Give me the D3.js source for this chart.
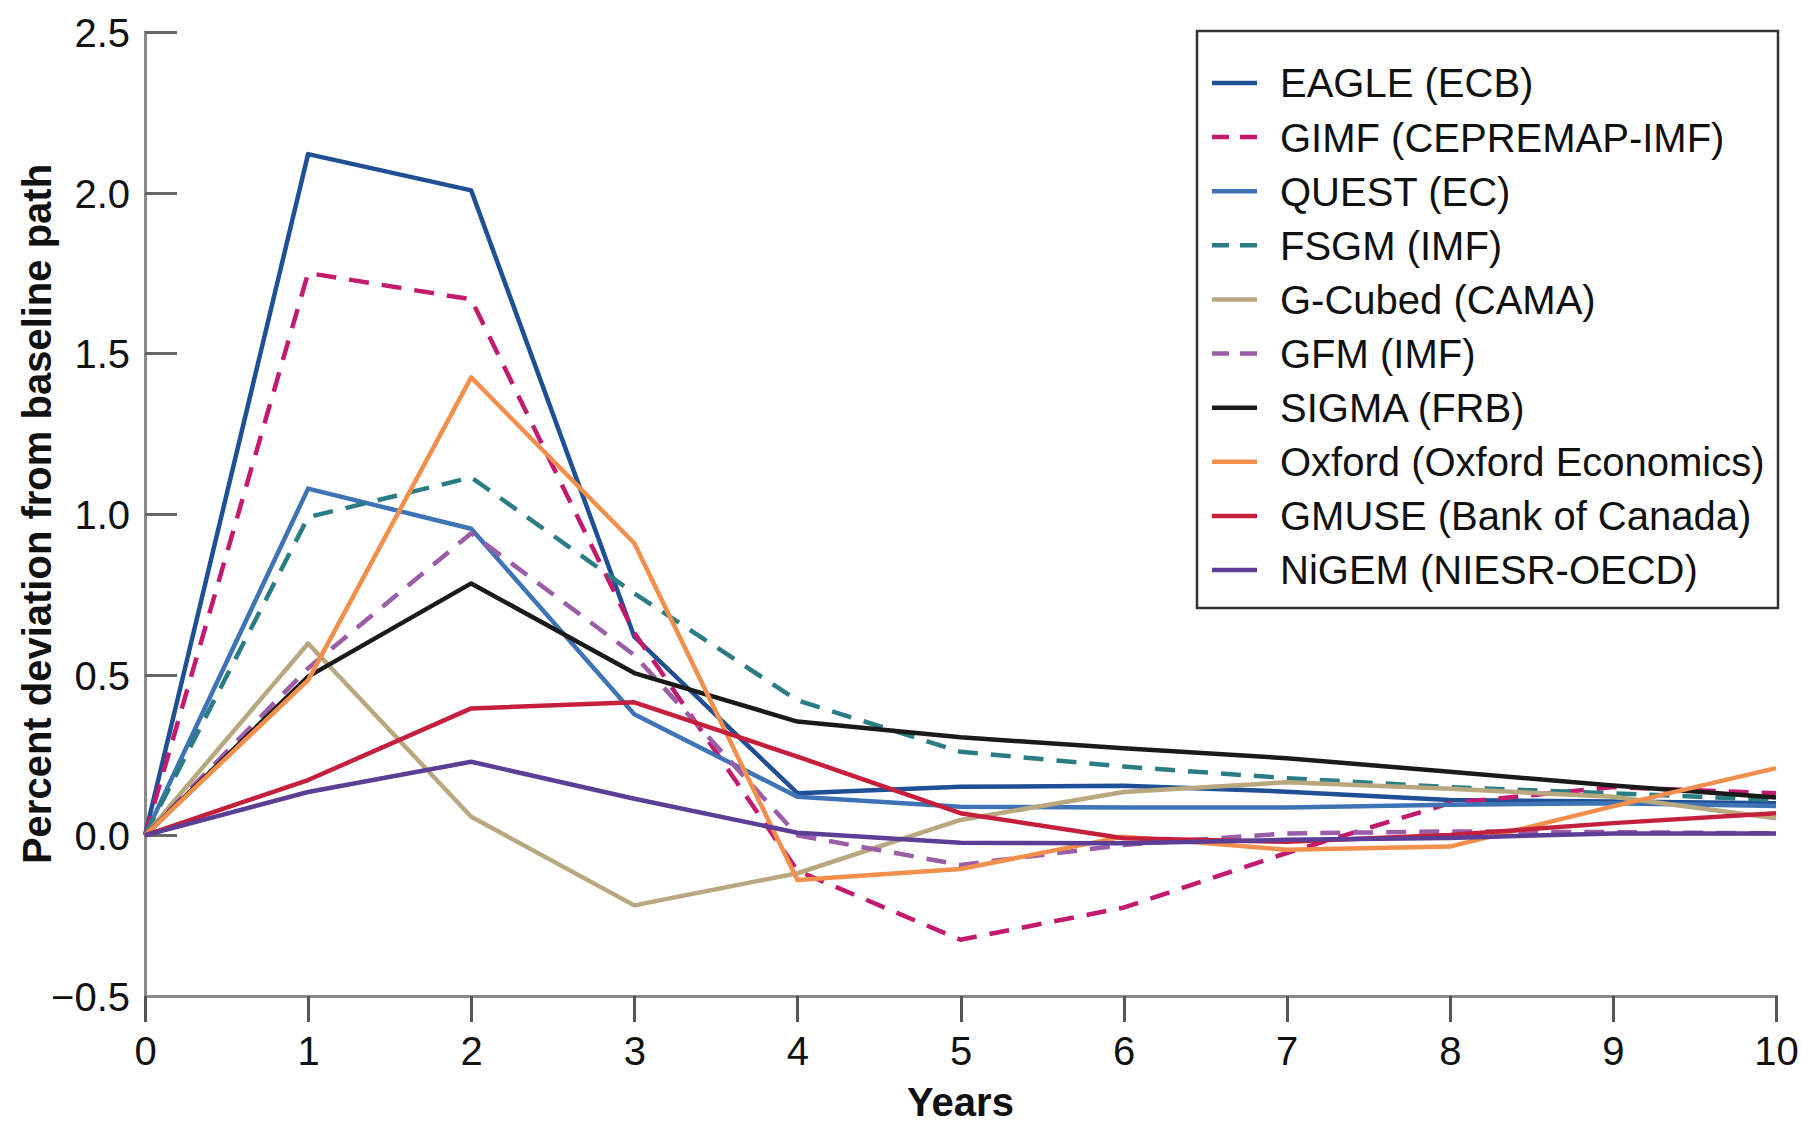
<!DOCTYPE html>
<html lang="en">
<head>
<meta charset="UTF-8">
<title>Percent deviation from baseline path</title>
<style>
  body {
    margin: 0;
    background: #fff;
  }
  svg text {
    font-family: "Liberation Sans", Arial, Helvetica, sans-serif;
    fill: #111;
  }
  .axis path, .axis line {
    fill: none;
    shape-rendering: crispEdges;
  }
</style>
</head>
<body>
<svg id="chart"></svg>

<script src="https://d3js.org/d3.v7.min.js"></script>
<script>
// years after the shock
const years = [0, 1, 2, 3, 4, 5, 6, 7, 8, 9, 10];

// one array per model (percent deviation from baseline path)
const eagle  = [0, 2.12, 2.007, 0.618, 0.131, 0.151, 0.154, 0.136, 0.11, 0.105, 0.1];
const gimf   = [0, 1.75, 1.668, 0.63, -0.11, -0.325, -0.225, -0.055, 0.1, 0.15, 0.131];
const quest  = [0, 1.079, 0.954, 0.377, 0.12, 0.089, 0.087, 0.087, 0.095, 0.1, 0.091];
const fsgm   = [0, 0.99, 1.114, 0.753, 0.42, 0.26, 0.214, 0.178, 0.15, 0.131, 0.11];
const gcubed = [0, 0.597, 0.058, -0.218, -0.118, 0.048, 0.135, 0.165, 0.145, 0.12, 0.053];
const gfm    = [0, 0.52, 0.94, 0.561, 0.0, -0.092, -0.03, 0.006, 0.012, 0.01, 0.006];
const sigma  = [0, 0.494, 0.784, 0.505, 0.354, 0.305, 0.271, 0.24, 0.198, 0.155, 0.118];
const oxford = [0, 0.483, 1.425, 0.909, -0.139, -0.105, -0.004, -0.045, -0.035, 0.09, 0.209];
const gmuse  = [0, 0.172, 0.395, 0.414, 0.245, 0.069, -0.009, -0.02, 0.001, 0.038, 0.069];
const nigem  = [0, 0.135, 0.229, 0.114, 0.008, -0.023, -0.025, -0.014, -0.008, 0.006, 0.006];

const seriesNames = ["EAGLE (ECB)", "GIMF (CEPREMAP-IMF)", "QUEST (EC)", "FSGM (IMF)",
  "G-Cubed (CAMA)", "GFM (IMF)", "SIGMA (FRB)", "Oxford (Oxford Economics)",
  "GMUSE (Bank of Canada)", "NiGEM (NIESR-OECD)"];
const seriesValues = [eagle, gimf, quest, fsgm, gcubed, gfm, sigma, oxford, gmuse, nigem];
const seriesColors = ["#1f4f95", "#c3196f", "#3e74b6", "#2a7c85", "#b9a77f",
  "#9b5ca8", "#1a1a1a", "#f28f4c", "#c51f3c", "#5d3e96"];
const seriesDashed = [false, true, false, true, false, true, false, false, false, false];

const yTicks = [-0.5, 0, 0.5, 1, 1.5, 2, 2.5];

const width = 1801, height = 1125;
const margin = {top: 32, right: 25, bottom: 129, left: 145};

const svg = d3.select("#chart")
  .attr("width", width)
  .attr("height", height);

const x = d3.scaleLinear()
  .domain([0, 10])
  .range([margin.left, width - margin.right]);

const y = d3.scaleLinear()
  .domain([-0.5, 2.5])
  .range([height - margin.bottom, margin.top]);

// y axis, ticks pointing inwards
const yAxis = svg.append("g")
  .attr("class", "axis")
  .attr("transform", "translate(" + margin.left + ",0)")
  .call(d3.axisRight(y).tickValues(yTicks).tickSize(32).tickFormat(d3.format(".1f")));
yAxis.select(".domain").attr("stroke", "#8a8a8a").attr("stroke-width", 3);
yAxis.selectAll(".tick line").attr("stroke", "#666").attr("stroke-width", 3);
yAxis.selectAll(".tick text")
  .attr("x", -15)
  .attr("text-anchor", "end")
  .attr("dy", "0.36em")
  .style("font-size", "40px");

// x axis, ticks pointing down
const xAxis = svg.append("g")
  .attr("class", "axis")
  .attr("transform", "translate(0," + y(-0.5) + ")")
  .call(d3.axisBottom(x).tickValues(years).tickSize(26).tickFormat(d3.format("d")));
xAxis.select(".domain").attr("stroke", "#8a8a8a").attr("stroke-width", 3);
xAxis.selectAll(".tick line").attr("stroke", "#555").attr("stroke-width", 3);
xAxis.selectAll(".tick text")
  .attr("y", 55)
  .attr("dy", "0.36em")
  .style("font-size", "40px");

// axis titles
svg.append("text")
  .attr("x", x(5))
  .attr("y", 1116)
  .attr("text-anchor", "middle")
  .style("font-size", "40px")
  .style("font-weight", "bold")
  .text("Years");

svg.append("text")
  .attr("transform", "translate(37," + y(1.0) + ") rotate(-90)")
  .attr("text-anchor", "middle")
  .attr("dy", "0.36em")
  .style("font-size", "40px")
  .style("font-weight", "bold")
  .text("Percent deviation from baseline path");

// lines
const line = d3.line()
  .x((d, i) => x(years[i]))
  .y(d => y(d));

svg.append("g")
  .selectAll("path")
  .data(seriesValues)
  .enter()
  .append("path")
  .attr("d", d => line(d))
  .attr("fill", "none")
  .attr("stroke", (d, i) => seriesColors[i])
  .attr("stroke-width", 4.5)
  .attr("stroke-linejoin", "round")
  .attr("stroke-dasharray", (d, i) => seriesDashed[i] ? "20,13" : null);

// legend
const legend = svg.append("g")
  .attr("transform", "translate(1197,31)");

legend.append("rect")
  .attr("width", 581)
  .attr("height", 577)
  .attr("fill", "#fff")
  .attr("stroke", "#333")
  .attr("stroke-width", 2.5);

const rowY = d3.scaleLinear().domain([0, 9]).range([52, 539]);

const rows = legend.selectAll(".row")
  .data(seriesNames)
  .enter()
  .append("g")
  .attr("class", "row")
  .attr("transform", (d, i) => "translate(0," + rowY(i) + ")");

rows.append("line")
  .attr("x1", 15)
  .attr("x2", 60)
  .attr("stroke", (d, i) => seriesColors[i])
  .attr("stroke-width", 4.5)
  .attr("stroke-dasharray", (d, i) => seriesDashed[i] ? "17,11" : null);

rows.append("text")
  .attr("x", 83)
  .attr("dy", "0.36em")
  .style("font-size", "40px")
  .text(d => d);
</script>
</body>
</html>
